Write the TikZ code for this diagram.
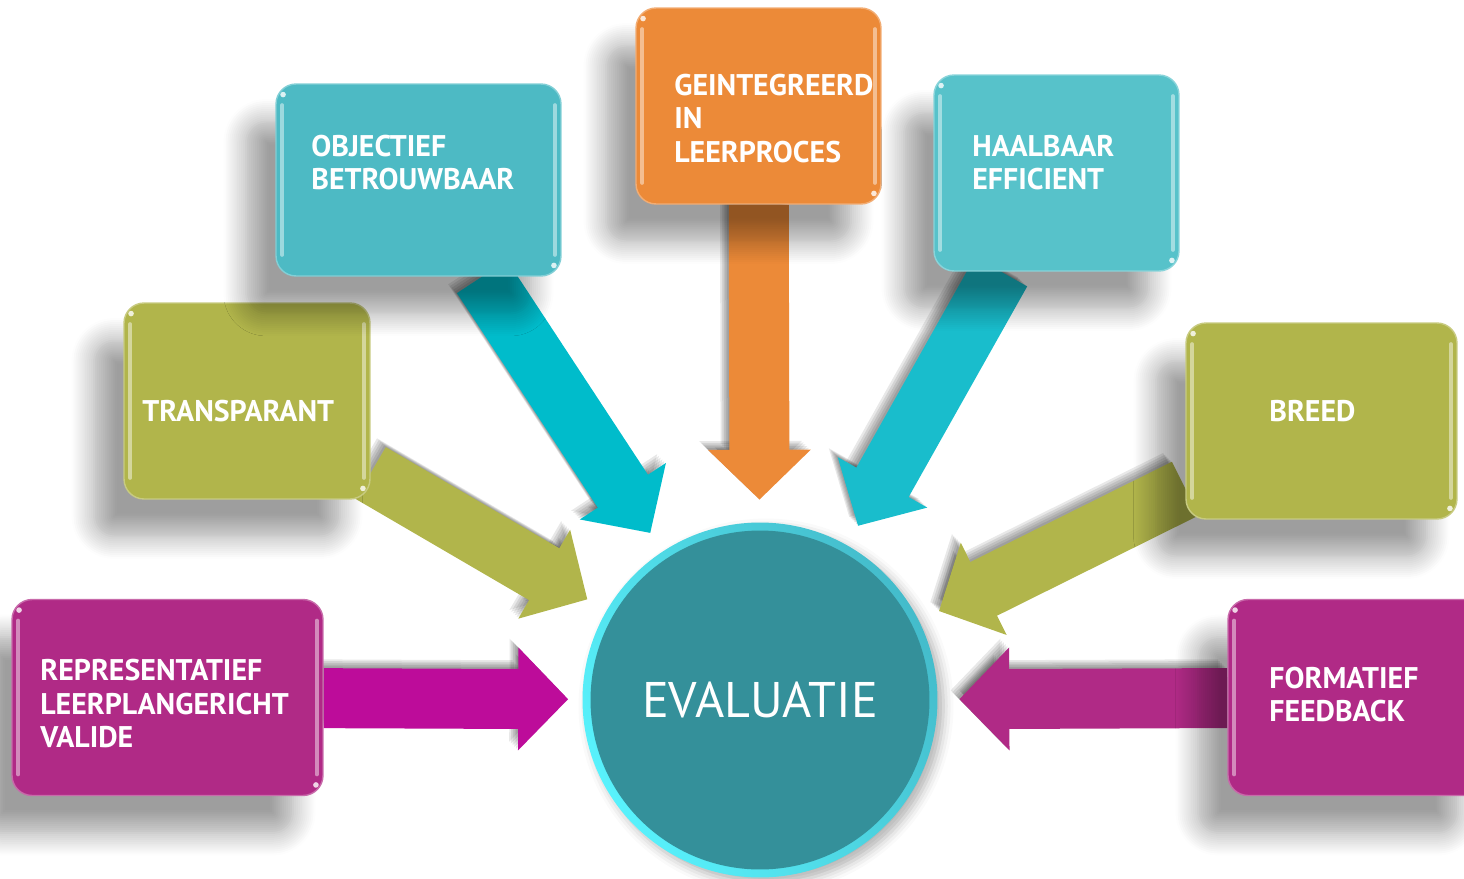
\documentclass[tikz,border=0pt]{standalone}
\usepackage{fontspec}
\setmainfont{PT Sans}
\usetikzlibrary{arrows.meta,shadows.blur}
\pgfdeclarelayer{bg}
\pgfsetlayers{bg,main}
\definecolor{magbox}{HTML}{B02A86}
\definecolor{magarrow}{HTML}{BD0C9A}
\definecolor{olive}{HTML}{B1B54B}
\definecolor{tealbox}{HTML}{4DBAC4}
\definecolor{tealarrow}{HTML}{00BCCB}
\definecolor{tealboxr}{HTML}{57C2CA}
\definecolor{tealarrowr}{HTML}{19BDCC}
\definecolor{orangebox}{HTML}{EC8A38}
\definecolor{evalfill}{HTML}{34909A}
\definecolor{evalringl}{HTML}{58F2FC}
\definecolor{evalringr}{HTML}{44BCCB}
\begin{document}
\begin{tikzpicture}[x=0.02cm,y=-0.02cm,line join=round,
  box/.style={fill=#1,draw=#1!70!white,line width=0.8pt,rounded corners=0.4cm,minimum height=3.92cm,
    blur shadow={shadow xshift=-0.6cm,shadow yshift=-0.75cm,shadow blur radius=0.45cm,shadow opacity=38,shadow blur steps=12},
    path picture={
      \draw[white,opacity=0.45,line width=2.2pt,line cap=round] ([xshift=3.5pt,yshift=-12pt]path picture bounding box.north west) -- ([xshift=3.5pt,yshift=12pt]path picture bounding box.south west);
      \draw[white,opacity=0.45,line width=2.2pt,line cap=round] ([xshift=-3.5pt,yshift=-12pt]path picture bounding box.north east) -- ([xshift=-3.5pt,yshift=12pt]path picture bounding box.south east);
      \fill[white,opacity=0.8] ([xshift=4pt,yshift=-6pt]path picture bounding box.north west) circle (1.6pt);
      \fill[white,opacity=0.8] ([xshift=-4pt,yshift=6pt]path picture bounding box.south east) circle (1.6pt);}},
  lbl/.style={text=white,font=\bfseries\fontsize{17}{19}\selectfont,align=left,inner sep=0pt,anchor=west},
  bigarrow/.style={line width=1.2cm,-{Triangle[length=1cm 0 0,width=2cm 0 0]}},
  arrowshade/.style={bigarrow,black,opacity=0.09,transform canvas={shift={(-#1,#1)}}}]
\useasboundingbox (0,0) rectangle (1464,879);
% boxes
\node[box=magbox,minimum width=6.22cm] (rep) at (167.5,697.5) {};
\node[box=olive,minimum width=4.92cm] (transp) at (247,401) {};
\node[box=tealbox,minimum width=5.7cm,minimum height=3.84cm] (obj) at (418.5,180) {};
\node[box=orangebox,minimum width=4.9cm] (geint) at (758.5,106) {};
\node[box=tealboxr,minimum width=4.9cm] (haal) at (1056.5,173) {};
\node[box=olive,minimum width=5.42cm] (breed) at (1321.5,421) {};
\node[box=magbox,minimum width=5.2cm] (form) at (1358,697.5) {};
% texts
\node[lbl] (repT) at (40,703.5) {REPRESENTATIEF\\LEERPLANGERICHT\\VALIDE};
\node[lbl] (transpT) at (142,411) {TRANSPARANT};
\node[lbl] (objT) at (311,162.5) {OBJECTIEF\\BETROUWBAAR};
\node[lbl] (geintT) at (674,118.5) {GEINTEGREERD\\IN\\LEERPROCES};
\node[lbl] (haalT) at (972,162.5) {HAALBAAR\\EFFICIENT};
\node[lbl] (breedT) at (1269,411) {BREED};
\node[lbl] (formT) at (1269,694.5) {FORMATIEF\\FEEDBACK};
% centre
\node[circle,inner sep=0pt,minimum size=7.1cm,shading=axis,left color=evalringl,right color=evalringr,shading angle=120,
  text=white,font=\fontsize{28.5}{34}\selectfont,
  path picture={\fill[evalfill] (path picture bounding box.center) circle (3.39cm);},
  blur shadow={shadow xshift=0.12cm,shadow yshift=-0.12cm,shadow blur radius=0.2cm,shadow opacity=30}] (eval) at (760,700) {EVALUATIE};
% arrows
\begin{pgfonlayer}{bg}
\foreach \b/\c/\g in {rep/magarrow/0.28cm,transp/olive/0.44cm,obj/tealarrow/0.44cm,geint/orangebox/0.45cm,haal/tealarrowr/0.44cm,breed/olive/0.44cm,form/magbox/0.43cm}{
  \foreach \s in {1pt,2pt,3pt,4pt,5pt}
    \draw[arrowshade=\s,shorten >=\g] (\b) -- (eval);
  \draw[bigarrow,\c,shorten >=\g] (\b) -- (eval);
}
\end{pgfonlayer}
\end{tikzpicture}
\end{document}
